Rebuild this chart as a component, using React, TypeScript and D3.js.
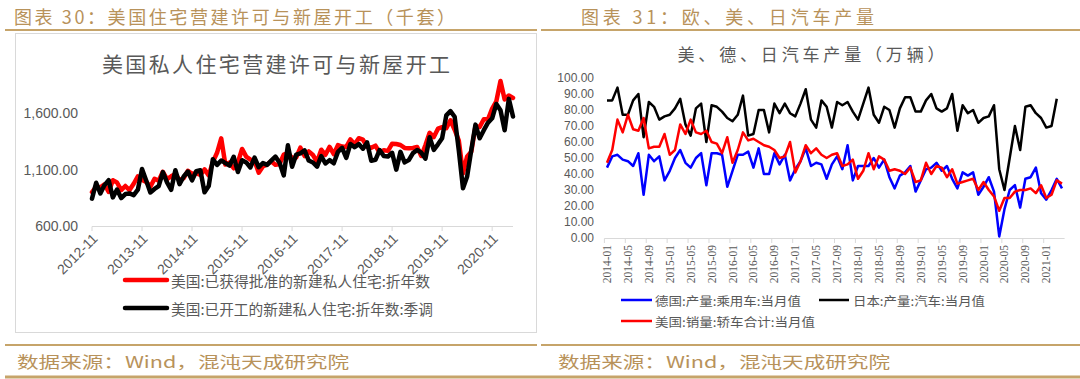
import React from "react";
import * as d3 from "d3";

// ---------- Left chart data (千套, monthly 2012-11 .. 2021-04) ----------
const leftTickLabels = ["2012-11", "2013-11", "2014-11", "2015-11", "2016-11", "2017-11", "2018-11", "2019-11", "2020-11"];
const leftYTicks = [600, 1100, 1600];
const permits = [
  900, 946,
  942, 968, 902, 1005, 985, 918, 954, 918, 974, 1039, 1007, 991,
  948, 1018, 1000, 1080, 1015, 1040, 1060, 1007, 1023, 1089, 1061, 1068,
  1052, 1101, 1048, 1167, 1248, 1375, 1144, 1161, 1111, 1162, 1282, 1214,
  1188, 1175, 1072, 1126, 1144, 1173, 1141, 1149, 1232, 1246, 1203, 1207,
  1293, 1219, 1260, 1228, 1168, 1275, 1230, 1300, 1235, 1316, 1303, 1300,
  1366, 1323, 1377, 1364, 1301, 1292, 1311, 1249, 1270, 1265, 1328, 1326,
  1317, 1291, 1288, 1290, 1299, 1220, 1317, 1425, 1387, 1461, 1474, 1466,
  1536, 1452, 1356, 1066, 1216, 1258, 1483, 1476, 1545, 1544, 1639, 1704,
  1883, 1720, 1755, 1733,
];
const starts = [
  842, 983,
  888, 962, 1005, 853, 923, 847, 883, 888, 873, 921, 1105, 1003,
  897, 928, 953, 1077, 986, 920, 1094, 970, 1038, 1082, 1004, 1085,
  1093, 898, 953, 1191, 1141, 1180, 1157, 1135, 1213, 1078, 1182, 1163,
  1118, 1206, 1120, 1158, 1141, 1178, 1214, 1159, 1048, 1314, 1125, 1232,
  1243, 1270, 1179, 1162, 1125, 1219, 1153, 1183, 1155, 1256, 1292, 1203,
  1326, 1298, 1325, 1284, 1339, 1177, 1186, 1272, 1219, 1215, 1248, 1099,
  1256, 1163, 1183, 1245, 1273, 1249, 1196, 1385, 1274, 1323, 1377, 1579,
  1617, 1567, 1269, 934, 1038, 1273, 1497, 1376, 1448, 1514, 1553, 1680,
  1625, 1447, 1725, 1569,
];

// ---------- Right chart data (万辆, monthly 2014-01 .. 2021-04) ----------
const rightTickLabels = [
  "2014-01", "2014-05", "2014-09", "2015-01", "2015-05", "2015-09", "2016-01", "2016-05",
  "2016-09", "2017-01", "2017-05", "2017-09", "2018-01", "2018-05", "2018-09", "2019-01",
  "2019-05", "2019-09", "2020-01", "2020-05", "2020-09", "2021-01",
];
const rightYTicks = [0, 10, 20, 30, 40, 50, 60, 70, 80, 90, 100];
const germany = [
  44, 51, 52, 49, 48, 45, 53, 27, 52, 48, 51, 36,
  42, 50, 55, 47, 44, 50, 53, 33, 53, 53, 52, 32,
  42, 52, 52, 54, 44, 56, 40, 40, 53, 46, 52, 36,
  43, 48, 56, 45, 47, 46, 37, 46, 51, 43, 58, 36,
  45, 45, 45, 50, 44, 49, 38, 31, 39, 41, 45, 29,
  36, 43, 44, 47, 42, 45, 37, 31, 41, 39, 41, 27,
  32, 38, 29, 1, 18, 30, 33, 19, 37, 38, 44, 28,
  24, 30, 37, 31,
];
const japan = [
  86, 86, 94, 77, 77, 86, 90, 63, 85, 82, 74, 76,
  77, 81, 87, 71, 64, 81, 84, 60, 83, 82, 79, 75,
  73, 77, 89, 64, 65, 80, 80, 66, 84, 78, 84, 78,
  76, 84, 93, 74, 69, 86, 82, 69, 85, 83, 85, 79,
  74, 84, 94, 77, 72, 82, 80, 69, 81, 88, 88, 79,
  79, 86, 90, 81, 79, 81, 90, 67, 83, 78, 80, 72,
  75, 76, 83, 43, 30, 50, 70, 55, 82, 83, 78, 75,
  69, 70, 87,
];
const usa = [
  47, 55, 74, 66, 77, 68, 67, 75, 56, 57, 57, 65,
  52, 55, 71, 65, 74, 66, 65, 67, 60, 59, 53, 63,
  47, 55, 66, 61, 62, 60, 58, 57, 55, 50, 51, 60,
  41, 48, 58, 53, 56, 52, 50, 52, 53, 45, 46, 49,
  37, 42, 53, 43, 51, 49, 42, 43, 42, 40, 44, 35,
  36, 47, 40, 45, 44, 38, 43, 34, 35, 36, 37, 30,
  35, 30, 26, 17, 25, 25, 29, 30, 30, 31, 28, 33,
  25, 27, 36, 34,
];

const GOLD_TEXT = "#b8925a";
const GOLD_LINE = "#c6a46a";
const GRAY_TEXT = "#595959";
const AXIS = "#d9d9d9";
const CJK = "'Noto Sans CJK SC', 'Noto Sans', sans-serif";
const SANS = "'Liberation Sans', Arial, sans-serif";

export default function App() {
  // Left chart scales
  const lx = d3.scaleLinear().domain([0, permits.length - 1]).range([92, 513]);
  const ly = d3.scaleLinear().domain([600, 1600]).range([226, 113]);
  const lLine = d3
    .line<number>()
    .x((_, i) => lx(i))
    .y((d) => ly(d))
    .curve(d3.curveLinear);

  // Right chart scales
  const rx = d3.scaleLinear().domain([0, 87]).range([607, 1062]);
  const ry = d3.scaleLinear().domain([0, 100]).range([238, 78]);
  const rLine = d3
    .line<number>()
    .x((_, i) => rx(i))
    .y((d) => ry(d));

  const step = rx(1) - rx(0);

  return (
    <div style={{ position: "fixed", left: 0, top: 0, width: 1080, height: 379, background: "#fff" }}>
      <svg width={1080} height={379} viewBox="0 0 1080 379" style={{ display: "block" }}>
        <rect x={0} y={0} width={1080} height={379} fill="#fff" />

        {/* Headers */}
        <text x={14} y={16} dominantBaseline="central" fontFamily={CJK} fontSize={18} fill={GOLD_TEXT} textLength={441} lengthAdjust="spacing">
          图表 30：美国住宅营建许可与新屋开工（千套）
        </text>
        <text x={581} y={16} dominantBaseline="central" fontFamily={CJK} fontSize={18} fill={GOLD_TEXT} textLength={293} lengthAdjust="spacing">
          图表 31：欧、美、日汽车产量
        </text>
        <line x1={5} x2={537} y1={30} y2={30} stroke={GOLD_LINE} strokeWidth={2} />
        <line x1={541} x2={1080} y1={30} y2={30} stroke={GOLD_LINE} strokeWidth={2} />

        {/* Left chart frame */}
        <rect x={15.5} y={33.5} width={521} height={299} fill="none" stroke={AXIS} strokeWidth={1} />

        {/* Left title */}
        <text x={276} y={63} textAnchor="middle" dominantBaseline="central" fontFamily={CJK} fontSize={21} fill={GRAY_TEXT} textLength={348} lengthAdjust="spacing">
          美国私人住宅营建许可与新屋开工
        </text>

        {/* Left Y labels */}
        {leftYTicks.map((t) => (
          <text key={t} x={78} y={ly(t)} textAnchor="end" dominantBaseline="central" fontFamily={SANS} fontSize={14} fill={GRAY_TEXT}>
            {d3.format(",.2f")(t)}
          </text>
        ))}
        {/* Left X axis */}
        <line x1={92} x2={513} y1={226.5} y2={226.5} stroke={AXIS} strokeWidth={1} />
        {leftTickLabels.map((lab, k) => {
          const x = lx(k * 12);
          return (
            <g key={lab}>
              <line x1={x} x2={x} y1={226.5} y2={231} stroke={AXIS} strokeWidth={1} />
              <text x={0} y={0} transform={`translate(${x + 3},${236}) rotate(-45)`} textAnchor="end" dominantBaseline="central" fontFamily={SANS} fontSize={14} fill={GRAY_TEXT}>
                {lab}
              </text>
            </g>
          );
        })}

        {/* Left lines */}
        <path d={lLine(permits) || ""} fill="none" stroke="#ff0000" strokeWidth={4.5} strokeLinejoin="round" strokeLinecap="round" />
        <path d={lLine(starts) || ""} fill="none" stroke="#000000" strokeWidth={4.5} strokeLinejoin="round" strokeLinecap="round" />

        {/* Left legend */}
        <line x1={125} x2={167} y1={280} y2={280} stroke="#ff0000" strokeWidth={4.5} strokeLinecap="round" />
        <text x={171} y={280} dominantBaseline="central" fontFamily={CJK} fontSize={14.5} fill={GRAY_TEXT} textLength={259} lengthAdjust="spacingAndGlyphs">
          美国:已获得批准的新建私人住宅:折年数
        </text>
        <line x1={125} x2={167} y1={308} y2={308} stroke="#000000" strokeWidth={4.5} strokeLinecap="round" />
        <text x={171} y={308} dominantBaseline="central" fontFamily={CJK} fontSize={14.5} fill={GRAY_TEXT} textLength={262} lengthAdjust="spacingAndGlyphs">
          美国:已开工的新建私人住宅:折年数:季调
        </text>

        {/* Right title */}
        <text x={811} y={53} textAnchor="middle" dominantBaseline="central" fontFamily={CJK} fontSize={17} fill={GRAY_TEXT} textLength={267} lengthAdjust="spacing">
          美、德、日汽车产量（万辆）
        </text>

        {/* Right Y labels */}
        {rightYTicks.map((t) => (
          <text key={t} x={594} y={ry(t)} textAnchor="end" dominantBaseline="central" fontFamily={SANS} fontSize={12} fill={GRAY_TEXT}>
            {t.toFixed(2)}
          </text>
        ))}
        {/* Right X axis */}
        <line x1={rx(0) - step / 2} x2={rx(87) + step / 2} y1={238.5} y2={238.5} stroke={AXIS} strokeWidth={1} />
        {rightTickLabels.map((lab, k) => {
          const xb = rx(k * 4) - step / 2;
          return (
            <line key={"t" + lab} x1={xb} x2={xb} y1={238.5} y2={243} stroke={AXIS} strokeWidth={1} />
          );
        })}
        {rightTickLabels.map((lab, k) => {
          const x = rx(k * 4);
          return (
            <text key={lab} x={0} y={0} transform={`translate(${x},${245}) rotate(-90)`} textAnchor="end" dominantBaseline="central" fontFamily="'Liberation Serif', serif" fontSize={11.5} fill={GRAY_TEXT}>
              {lab}
            </text>
          );
        })}

        {/* Right lines */}
        <path d={rLine(germany) || ""} fill="none" stroke="#0000ff" strokeWidth={2.5} strokeLinejoin="round" />
        <path d={rLine(japan) || ""} fill="none" stroke="#000000" strokeWidth={2.5} strokeLinejoin="round" />
        <path d={rLine(usa) || ""} fill="none" stroke="#ff0000" strokeWidth={2.5} strokeLinejoin="round" />

        {/* Right legend */}
        <line x1={621} x2={652} y1={300} y2={300} stroke="#0000ff" strokeWidth={2.5} />
        <text x={655} y={300} dominantBaseline="central" fontFamily={CJK} fontSize={12.5} fill={GRAY_TEXT} textLength={146} lengthAdjust="spacingAndGlyphs">
          德国:产量:乘用车:当月值
        </text>
        <line x1={819} x2={849} y1={300} y2={300} stroke="#000000" strokeWidth={2.5} />
        <text x={853} y={300} dominantBaseline="central" fontFamily={CJK} fontSize={12.5} fill={GRAY_TEXT} textLength={132} lengthAdjust="spacingAndGlyphs">
          日本:产量:汽车:当月值
        </text>
        <line x1={621} x2={652} y1={321} y2={321} stroke="#ff0000" strokeWidth={2.5} />
        <text x={655} y={321} dominantBaseline="central" fontFamily={CJK} fontSize={12.5} fill={GRAY_TEXT} textLength={160} lengthAdjust="spacingAndGlyphs">
          美国:销量:轿车合计:当月值
        </text>

        {/* Footer */}
        <line x1={5} x2={537} y1={345} y2={345} stroke={GOLD_LINE} strokeWidth={2} />
        <line x1={541} x2={1080} y1={345} y2={345} stroke={GOLD_LINE} strokeWidth={2} />
        <text x={17} y={361} dominantBaseline="central" fontFamily={CJK} fontSize={16} fill={GOLD_TEXT} textLength={332} lengthAdjust="spacingAndGlyphs">
          数据来源：Wind，混沌天成研究院
        </text>
        <text x={558} y={361} dominantBaseline="central" fontFamily={CJK} fontSize={16} fill={GOLD_TEXT} textLength={332} lengthAdjust="spacingAndGlyphs">
          数据来源：Wind，混沌天成研究院
        </text>
        <line x1={5} x2={1080} y1={377} y2={377} stroke={GOLD_LINE} strokeWidth={3} />
      </svg>
    </div>
  );
}
